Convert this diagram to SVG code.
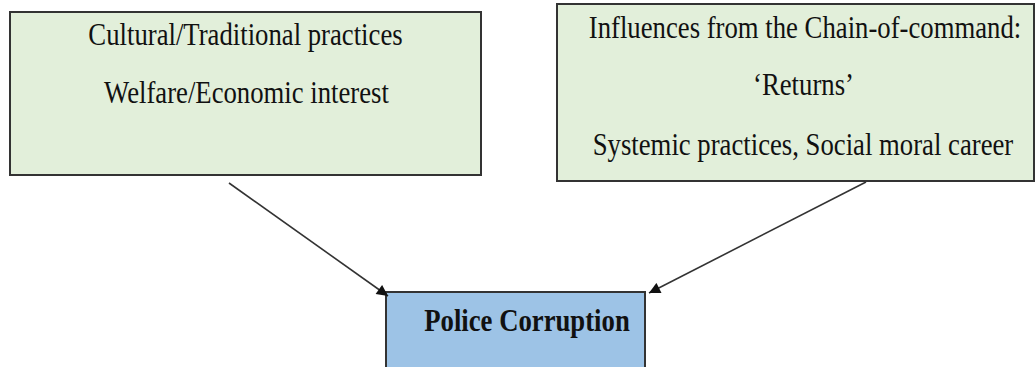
<svg xmlns="http://www.w3.org/2000/svg" width="1036" height="367" viewBox="0 0 1036 367">
  <defs>
    <style>
      .cause { fill: #e2efda; stroke: #333333; stroke-width: 2; }
      .effect { fill: #9dc3e6; stroke: #333333; stroke-width: 2; }
      .lbl { font-family: 'Liberation Serif', 'Times New Roman', 'DejaVu Serif', serif; font-size: 32px; fill: #111111; text-anchor: middle; }
      .bold { font-weight: bold; }
      .link { stroke: #333333; stroke-width: 1.6; fill: none; marker-end: url(#head); }
    </style>
    <marker id="head" viewBox="0 0 10 10" refX="10" refY="5" markerWidth="8" markerHeight="7" markerUnits="strokeWidth" orient="auto">
      <path d="M0,0 L10,5 L0,10 z" fill="#111111"/>
    </marker>
  </defs>

  <!-- left cause box -->
  <g id="node-cultural">
    <rect class="cause" x="10" y="12" width="471" height="163"/>
    <text class="lbl" transform="translate(245.5 45) scale(0.835 1)">Cultural/Traditional practices</text>
    <text class="lbl" transform="translate(246.5 103) scale(0.835 1)">Welfare/Economic interest</text>
  </g>

  <!-- right cause box -->
  <g id="node-chain">
    <rect class="cause" x="557" y="4" width="477" height="177"/>
    <text class="lbl" transform="translate(805 38) scale(0.835 1)">Influences from the Chain-of-command:</text>
    <text class="lbl" transform="translate(803.5 95) scale(0.835 1)">‘Returns’</text>
    <text class="lbl" transform="translate(803 155) scale(0.835 1)">Systemic practices, Social moral career</text>
  </g>

  <!-- outcome box -->
  <g id="node-corruption">
    <rect class="effect" x="386" y="292" width="259" height="80"/>
    <text class="lbl bold" transform="translate(527 331) scale(0.835 1)">Police Corruption</text>
  </g>

  <!-- connectors -->
  <g id="connectors">
    <line class="link" x1="229" y1="183" x2="388" y2="296"/>
    <line class="link" x1="866" y1="182" x2="649" y2="293"/>
  </g>
</svg>
